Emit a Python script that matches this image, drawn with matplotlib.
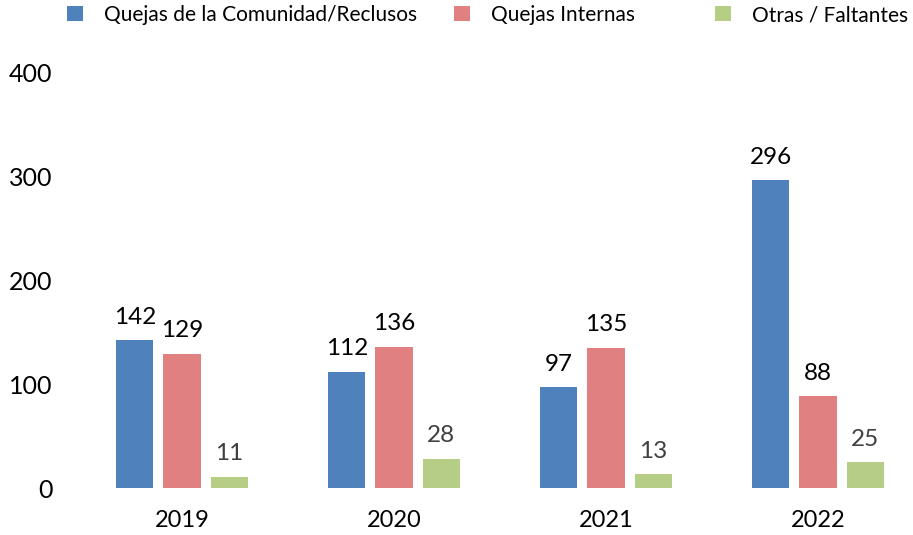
import matplotlib
matplotlib.use("Agg")
import matplotlib.pyplot as plt
import numpy as np
from matplotlib.patches import Patch

years = ["2019", "2020", "2021", "2022"]
series_names = ["Quejas de la Comunidad/Reclusos", "Quejas Internas", "Otras / Faltantes"]
comunidad = [142, 112, 97, 296]
internas = [129, 136, 135, 88]
otras = [11, 28, 13, 25]
yticks = [0, 100, 200, 300, 400]

colors = ["#4F81BD", "#E08080", "#B5CD85"]
label_colors = ["#000000", "#000000", "#404040"]

plt.rcParams['font.family'] = ['Lato', 'DejaVu Sans']

fig = plt.figure(figsize=(9.13, 5.35), dpi=100)
ax = fig.add_axes([76/913, 47/535, 1 - 76/913, (488-72)/535])

x = np.arange(len(years))
width = 0.175
pitch = 0.222
for i, (vals, c, lc) in enumerate(zip([comunidad, internas, otras], colors, label_colors)):
    pos = x + (i - 1) * pitch
    bars = ax.bar(pos, vals, width=width, color=c, label=series_names[i])
    for b, v in zip(bars, vals):
        ax.annotate(str(v), (b.get_x() + b.get_width()/2, v), xytext=(0, 9),
                    textcoords="offset points", ha="center", va="bottom",
                    fontsize=17.5, color=lc)

ax.set_xlim(-0.5, 3.5 - 11/212)
ax.set_ylim(0, 400)
ax.set_yticks(yticks)
ax.set_yticklabels([str(t) for t in yticks], fontsize=18)
ax.set_xticks(x)
ax.set_xticklabels(years, fontsize=17)
ax.tick_params(axis='both', length=0)
ax.tick_params(axis='y', pad=17)
ax.tick_params(axis='x', pad=16)
for s in ax.spines.values():
    s.set_visible(False)

# legend entries placed individually to match the reference spacing
legend_x = [67, 454, 715]
for name, c, lx in zip(series_names, colors, legend_x):
    fig.legend([Patch(facecolor=c, edgecolor='none')], [name], loc="upper left",
               bbox_to_anchor=(lx/913, 1 - 5/535), frameon=False, fontsize=15,
               handlelength=0.78, handleheight=0.74, handletextpad=1.0,
               borderpad=0, borderaxespad=0)

fig.savefig("out.png", dpi=100)
